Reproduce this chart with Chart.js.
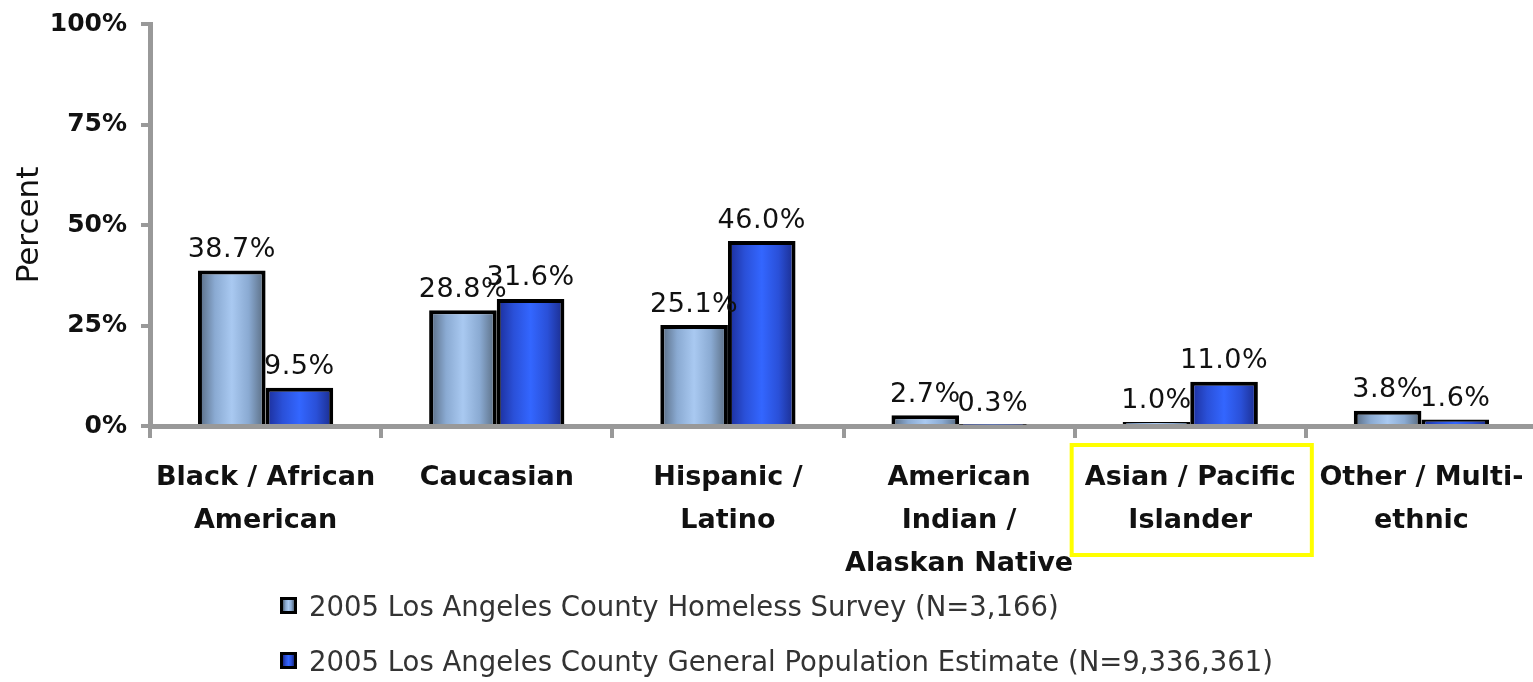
<!DOCTYPE html>
<html>
<head>
<meta charset="utf-8">
<script src="https://cdn.jsdelivr.net/npm/chart.js@4.4.1/dist/chart.umd.min.js"></script>
<style>
  html, body { margin: 0; padding: 0; background: #fff; overflow: hidden; width: 1533px; height: 682px; }
  #wrap { position: absolute; left: 0; top: 0; width: 1540px; height: 682px; }
  #legend { position: absolute; left: 280px; top: 578px; font-family: "DejaVu Sans", sans-serif; font-size: 27.5px; color: #333; }
  .row { display: flex; align-items: center; height: 55px; }
  .sw { width: 11px; height: 11px; border: 3px solid #000; margin-right: 12px; }
</style>
</head>
<body>
<div id="wrap"><canvas id="c" width="1540" height="682"></canvas></div>
<div id="legend"></div>
<script>
const categories = [
  ['Black / African', 'American'],
  ['Caucasian'],
  ['Hispanic /', 'Latino'],
  ['American', 'Indian /', 'Alaskan Native'],
  ['Asian / Pacific', 'Islander'],
  ['Other / Multi-', 'ethnic']
];
const seriesNames = [
  '2005 Los Angeles County Homeless Survey (N=3,166)',
  '2005 Los Angeles County General Population Estimate (N=9,336,361)'
];
const homeless = [38.7, 28.8, 25.1, 2.7, 1.0, 3.8];
const generalPop = [9.5, 31.6, 46.0, 0.3, 11.0, 1.6];
const yTicks = [0, 25, 50, 75, 100];
const highlightIndex = 4;

const CAT_PCT = 0.585;
const gradStops = [
  ['#55677d', '#8aaad2', '#a9c9f1', '#8aaad2', '#56687c'],
  ['#1b2c96', '#2a50d8', '#3366ff', '#2a50d8', '#1a2a88']
];

function gradFill(dsIndex) {
  return (ctx) => {
    const chart = ctx.chart;
    const xs = chart.scales.x;
    const stops = gradStops[dsIndex];
    if (!xs || !chart.chartArea || ctx.type !== 'data') return stops[2];
    const cw = (xs.right - xs.left) / categories.length;
    const bw = cw * CAT_PCT / 2;
    const c = xs.getPixelForValue(ctx.dataIndex) + (dsIndex === 0 ? -bw / 2 : bw / 2);
    const g = chart.ctx.createLinearGradient(c - bw / 2, 0, c + bw / 2, 0);
    stops.forEach((s, i) => g.addColorStop(i / (stops.length - 1), s));
    return g;
  };
}

const dataLabels = {
  id: 'dataLabels',
  afterDatasetsDraw(chart) {
    const ctx = chart.ctx;
    ctx.save();
    ctx.font = '27px "DejaVu Sans"';
    ctx.fillStyle = '#111';
    ctx.textAlign = 'center';
    ctx.textBaseline = 'bottom';
    try { ctx.letterSpacing = '0.5px'; } catch (e) {}
    chart.data.datasets.forEach((ds, di) => {
      chart.getDatasetMeta(di).data.forEach((el, i) => {
        ctx.fillText(ds.data[i].toFixed(1) + '%', el.x, el.y - 7);
      });
    });
    ctx.restore();
  }
};

const highlightBox = {
  id: 'highlightBox',
  afterDraw(chart) {
    const xs = chart.scales.x;
    const cw = (xs.right - xs.left) / categories.length;
    const cx = xs.getPixelForValue(highlightIndex);
    const ctx = chart.ctx;
    ctx.save();
    ctx.strokeStyle = '#ffff00';
    ctx.lineWidth = 4;
    ctx.strokeRect(cx - cw / 2 - 3, xs.top + 19, cw + 9, 110);
    ctx.restore();
  }
};

const chart = new Chart(document.getElementById('c'), {
  type: 'bar',
  data: {
    labels: categories,
    datasets: [
      { label: seriesNames[0], data: homeless, backgroundColor: gradFill(0), borderColor: '#000', borderWidth: 4, borderSkipped: 'bottom' },
      { label: seriesNames[1], data: generalPop, backgroundColor: gradFill(1), borderColor: '#000', borderWidth: 4, borderSkipped: 'bottom' }
    ]
  },
  options: {
    responsive: false,
    animation: false,
    events: [],
    layout: { padding: { top: 24, right: 3, left: 0, bottom: 0 } },
    datasets: { bar: { barPercentage: 1, categoryPercentage: CAT_PCT } },
    plugins: { legend: { display: false }, tooltip: { enabled: false } },
    scales: {
      x: {
        grid: { display: true, drawOnChartArea: false, drawTicks: true, tickLength: 12, color: '#999', lineWidth: 4, offset: true },
        border: { display: true, color: '#999', width: 5 },
        ticks: { color: '#111', font: { family: 'DejaVu Sans', size: 27, weight: 'bold', lineHeight: 1.6 }, padding: 18, maxRotation: 0, autoSkip: false },
        afterFit(scale) { scale.height = 256; scale.paddingLeft = 0; scale.paddingRight = 0; }
      },
      y: {
        min: 0, max: 100,
        afterBuildTicks(scale) { scale.ticks = yTicks.map(v => ({ value: v })); },
        grid: { display: true, drawOnChartArea: false, drawTicks: true, tickLength: 9, color: '#999', lineWidth: 4 },
        border: { display: true, color: '#999', width: 5 },
        ticks: { color: '#111', font: { family: 'DejaVu Sans', size: 25, weight: 'bold' }, padding: 14, callback: v => v + '%' },
        title: { display: true, text: 'Percent', color: '#111', font: { family: 'DejaVu Sans', size: 31 }, padding: { top: 11, bottom: 0 } },
        afterFit(scale) { scale.width = 150; scale.paddingTop = 0; scale.paddingBottom = 0; }
      }
    }
  },
  plugins: [dataLabels, highlightBox]
});

// HTML legend from dataset labels
const lg = document.getElementById('legend');
seriesNames.forEach((name, i) => {
  const row = document.createElement('div');
  row.className = 'row';
  const sw = document.createElement('span');
  sw.className = 'sw';
  sw.style.background = 'linear-gradient(90deg,' + gradStops[i].join(',') + ')';
  const tx = document.createElement('span');
  tx.textContent = name;
  row.appendChild(sw); row.appendChild(tx);
  lg.appendChild(row);
});
</script>
</body>
</html>
